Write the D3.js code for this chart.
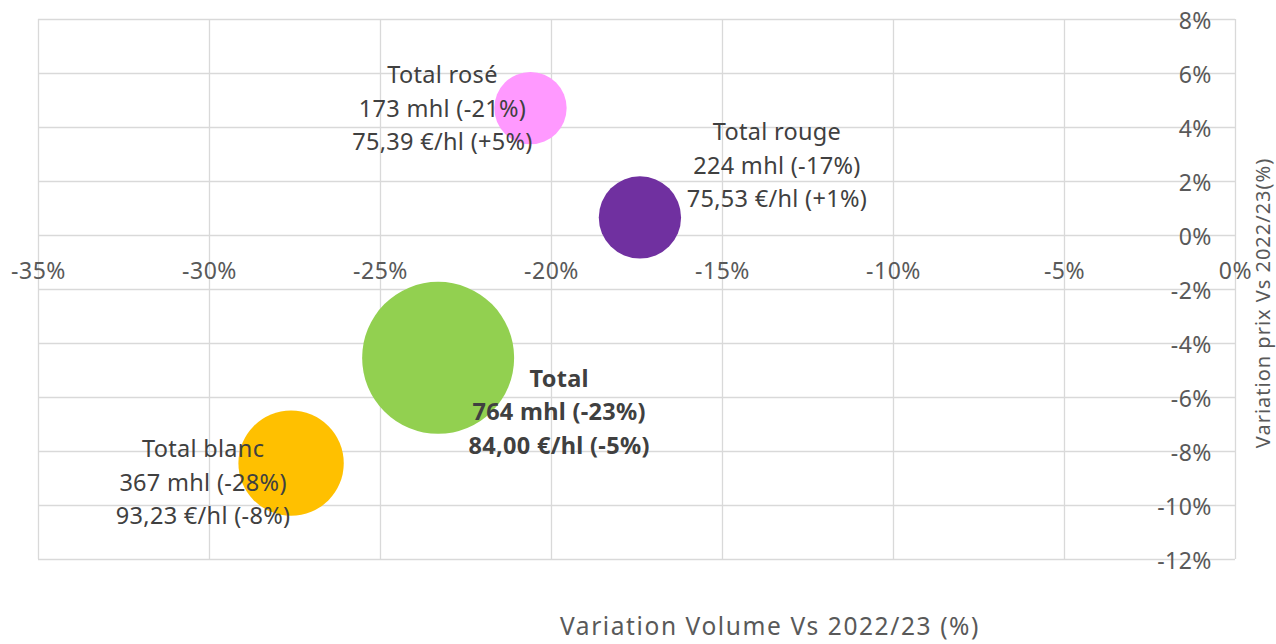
<!DOCTYPE html>
<html>
<head>
<meta charset="utf-8">
<script src="https://cdn.jsdelivr.net/npm/d3@7"></script>
<style>
  body { margin: 0; background: #fff; }
  svg { display: block; font-family: "Noto Sans", sans-serif; }
</style>
</head>
<body>
<div id="bubbleChart"></div>
<script>
// data
var names = ["Total rosé", "Total rouge", "Total", "Total blanc"]
var volumeVar = [-20.6, -17.4, -23.3, -27.6]   // x, %
var priceVar = [4.7, 0.65, -4.55, -8.45]       // y, %
var volumes = [173, 224, 764, 367]             // mhl, bubble size
var line2 = ["173 mhl (-21%)", "224 mhl (-17%)", "764 mhl (-23%)", "367 mhl (-28%)"]
var line3 = ["75,39 €/hl (+5%)", "75,53 €/hl (+1%)", "84,00 €/hl (-5%)", "93,23 €/hl (-8%)"]
var colors = ["#ff99ff", "#7030a0", "#92d050", "#ffc000"]
var xTicks = [-35, -30, -25, -20, -15, -10, -5, 0]
var yTicks = [8, 6, 4, 2, 0, -2, -4, -6, -8, -10, -12]

// label placement relative to bubble centre (px)
var labelDx = [-88, 137, 121, -88]
var labelDy = [0, -52, 54, 19]
var labelBold = [false, false, true, false]

var W = 1276, H = 644
var margin = {top: 19, right: 41, bottom: 85, left: 38},
    width = W - margin.left - margin.right,
    height = H - margin.top - margin.bottom

var svg = d3.select("#bubbleChart")
    .append("svg")
    .attr("width", W)
    .attr("height", H)

var g = svg.append("g")
    .attr("transform", "translate(" + margin.left + "," + margin.top + ")")

var x = d3.scaleLinear().domain([-35, 0]).range([0, width])
var y = d3.scaleLinear().domain([-12, 8]).range([height, 0])
var r = d3.scaleSqrt().domain([0, 764]).range([0, 76])

// vertical grid
g.append("g")
    .call(d3.axisBottom(x).tickValues(xTicks).tickSize(height).tickFormat(""))
    .call(function(a) { a.select(".domain").remove() })
    .selectAll("line").attr("stroke", "#d9d9d9").attr("stroke-width", 1.3)

// horizontal grid
g.append("g")
    .call(d3.axisRight(y).tickValues(yTicks).tickSize(width).tickFormat(""))
    .call(function(a) { a.select(".domain").remove() })
    .selectAll("line").attr("stroke", "#d9d9d9").attr("stroke-width", 1.3)

// x tick labels along the 0% line
var xAx = g.append("g")
    .attr("transform", "translate(0," + y(0) + ")")
    .call(d3.axisBottom(x).tickValues(xTicks).tickSize(0).tickPadding(28)
        .tickFormat(function(d) { return d + "%" }))
xAx.select(".domain").remove()
xAx.selectAll("text").attr("font-size", 23).attr("fill", "#595959")
    .attr("font-family", "Noto Sans").attr("letter-spacing", 0.5)

// y tick labels along the 0% vertical line
var yAx = g.append("g")
    .attr("transform", "translate(" + x(0) + ",0)")
    .call(d3.axisLeft(y).tickValues(yTicks).tickSize(0).tickPadding(23)
        .tickFormat(function(d) { return d + "%" }))
yAx.select(".domain").remove()
yAx.selectAll("text").attr("font-size", 23).attr("fill", "#595959")
    .attr("font-family", "Noto Sans").attr("letter-spacing", 0.5).attr("dy", "0.4em")

// bubbles
var bubbles = d3.range(names.length)
g.selectAll("circle.bubble")
    .data(bubbles)
    .enter()
    .append("circle")
    .attr("class", "bubble")
    .attr("cx", function(i) { return x(volumeVar[i]) })
    .attr("cy", function(i) { return y(priceVar[i]) })
    .attr("r", function(i) { return r(volumes[i]) })
    .attr("fill", function(i) { return colors[i] })

// labels
var labels = g.selectAll("text.lbl")
    .data(bubbles)
    .enter()
    .append("text")
    .attr("class", "lbl")
    .attr("text-anchor", "middle")
    .attr("font-size", 23.5)
    .attr("letter-spacing", 0.3)
    .attr("fill", "#404040")
    .attr("font-weight", function(i) { return labelBold[i] ? "bold" : "normal" })

labels.each(function(i) {
    var cx = x(volumeVar[i]) + labelDx[i]
    var cy = y(priceVar[i]) + labelDy[i]
    var lines = [names[i], line2[i], line3[i]]
    d3.select(this).selectAll("tspan")
        .data(lines)
        .enter()
        .append("tspan")
        .attr("x", cx)
        .attr("y", function(d, k) { return cy + (k - 1) * 33.5 })
        .attr("dy", "0.36em")
        .text(function(d) { return d })
})

// axis titles
svg.append("text")
    .attr("x", 770)
    .attr("y", 626)
    .attr("dy", "0.36em")
    .attr("text-anchor", "middle")
    .attr("font-size", 24.5)
    .attr("letter-spacing", 1.6)
    .attr("fill", "#595959")
    .text("Variation Volume Vs 2022/23 (%)")

svg.append("text")
    .attr("transform", "translate(1263," + 303 + ") rotate(-90)")
    .attr("dy", "0.36em")
    .attr("text-anchor", "middle")
    .attr("font-size", 20)
    .attr("letter-spacing", 1)
    .attr("fill", "#595959")
    .text("Variation prix Vs 2022/23(%)")
</script>
</body>
</html>
